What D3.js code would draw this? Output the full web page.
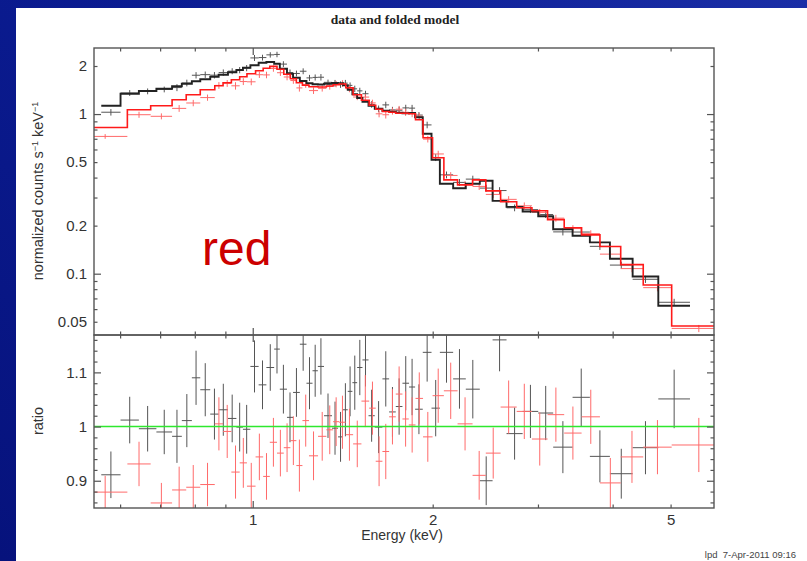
<!DOCTYPE html>
<html>
<head>
<meta charset="utf-8">
<script src="https://cdn.jsdelivr.net/npm/d3@7"></script>
<style>
html, body { margin: 0; padding: 0; }
body { width: 807px; height: 561px; overflow: hidden; }
text { font-family: Arial, "Liberation Sans", Helvetica, sans-serif; }
</style>
</head>
<body>
<script>
// group 1 (black): bin edges in keV, folded model, data/model ratio and its error
var blackEdges = [0.558, 0.601, 0.645, 0.690, 0.733, 0.761, 0.791, 0.817, 0.849, 0.877, 0.909, 0.939, 0.963, 0.991,
	1.023, 1.054, 1.086, 1.110, 1.141, 1.168, 1.199, 1.230, 1.259, 1.285, 1.316, 1.357, 1.389, 1.416, 1.442, 1.468,
	1.495, 1.526, 1.562, 1.600, 1.648, 1.691, 1.735, 1.780, 1.826, 1.869, 1.925, 1.991, 2.056, 2.164, 2.272, 2.398,
	2.519, 2.658, 2.828, 3.003, 3.181, 3.428, 3.664, 3.958, 4.320, 4.769, 5.388];
var blackModel = [1.127, 1.340, 1.394, 1.441, 1.492, 1.549, 1.606, 1.653, 1.713, 1.764, 1.829, 1.887, 1.951, 2.023,
	2.097, 2.118, 2.067, 1.923, 1.789, 1.689, 1.610, 1.560, 1.538, 1.531, 1.549, 1.564, 1.560, 1.515, 1.420, 1.331,
	1.260, 1.194, 1.127, 1.080, 1.049, 1.034, 1.019, 1.012, 1.015, 0.955, 0.752, 0.517, 0.366, 0.343, 0.366, 0.382,
	0.286, 0.262, 0.245, 0.229, 0.190, 0.173, 0.157, 0.124, 0.096, 0.063];
var blackRatio = [0.911, 1.012, 0.996, 0.990, 0.982, 1.011, 1.090, 1.068, 1.023, 1.031, 1.015, 0.999, 0.995, 1.111,
	1.077, 1.109, 1.143, 1.069, 1.017, 1.063, 1.152, 1.080, 1.103, 1.111, 1.020, 0.997, 0.981, 1.031, 1.065, 1.081,
	1.109, 1.123, 1.020, 0.999, 1.088, 1.027, 1.037, 1.080, 1.073, 1.032, 1.137, 1.034, 1.137, 1.088, 1.069, 0.900,
	1.160, 0.987, 1.028, 1.025, 0.962, 1.054, 0.945, 0.913, 0.961, 1.051];
var blackErr = [0.043, 0.043, 0.042, 0.041, 0.049, 0.049, 0.050, 0.049, 0.047, 0.048, 0.044, 0.045, 0.045, 0.048,
	0.045, 0.043, 0.045, 0.045, 0.046, 0.045, 0.049, 0.048, 0.048, 0.052, 0.041, 0.049, 0.046, 0.049, 0.046, 0.050,
	0.051, 0.049, 0.048, 0.048, 0.051, 0.046, 0.052, 0.050, 0.052, 0.046, 0.054, 0.052, 0.056, 0.055, 0.054, 0.045,
	0.058, 0.048, 0.049, 0.050, 0.048, 0.053, 0.048, 0.046, 0.049, 0.054];

// group 2 (red)
var redEdges = [0.520, 0.617, 0.675, 0.733, 0.774, 0.817, 0.864, 0.892, 0.921, 0.951, 0.978, 1.011, 1.041, 1.068,
	1.098, 1.127, 1.156, 1.183, 1.211, 1.242, 1.286, 1.328, 1.363, 1.395, 1.431, 1.472, 1.520, 1.566, 1.606, 1.648,
	1.691, 1.735, 1.780, 1.824, 1.872, 1.927, 1.999, 2.088, 2.201, 2.332, 2.454, 2.598, 2.764, 2.931, 3.113, 3.319,
	3.549, 3.809, 4.126, 4.500, 5.021, 6.189];
var redModel = [0.824, 1.064, 1.127, 1.229, 1.321, 1.420, 1.504, 1.571, 1.641, 1.713, 1.789, 1.868, 1.937, 1.988,
	1.909, 1.776, 1.665, 1.571, 1.515, 1.483, 1.476, 1.498, 1.526, 1.542, 1.462, 1.321, 1.220, 1.136, 1.072, 1.038,
	1.026, 1.012, 1.012, 1.004, 0.921, 0.710, 0.532, 0.387, 0.360, 0.387, 0.330, 0.282, 0.259, 0.248, 0.218, 0.194,
	0.175, 0.148, 0.114, 0.085, 0.047];
var redRatio = [0.879, 0.931, 0.859, 0.883, 0.888, 0.893, 1.005, 0.991, 0.916, 0.933, 0.890, 0.944, 0.908, 0.971,
	0.951, 0.961, 0.974, 0.928, 1.011, 0.946, 0.982, 0.994, 1.009, 1.008, 0.985, 0.968, 1.047, 1.034, 0.936, 0.954,
	1.018, 1.060, 1.014, 1.003, 1.052, 0.981, 1.057, 1.066, 1.005, 0.910, 0.951, 1.036, 1.028, 0.977, 1.022, 0.988,
	1.018, 0.896, 0.944, 0.962, 0.966];
var redErr = [0.030, 0.041, 0.037, 0.043, 0.041, 0.040, 0.049, 0.049, 0.049, 0.046, 0.043, 0.043, 0.043, 0.045,
	0.043, 0.045, 0.045, 0.048, 0.048, 0.045, 0.045, 0.045, 0.045, 0.049, 0.048, 0.043, 0.048, 0.049, 0.046, 0.051,
	0.051, 0.051, 0.051, 0.051, 0.048, 0.046, 0.050, 0.052, 0.049, 0.045, 0.047, 0.049, 0.051, 0.049, 0.050, 0.049,
	0.050, 0.046, 0.048, 0.050, 0.050];

// ticks
var xLabels = [1, 2, 5];
var xMajor = [1];
var xMinor = [0.6, 0.7, 0.8, 0.9, 2, 3, 4, 5];
var yUpLabels = [0.05, 0.1, 0.2, 0.5, 1, 2];
var yUpMajor = [0.1, 1];
var yUpMinor = [0.05, 0.06, 0.07, 0.08, 0.09, 0.2, 0.3, 0.4, 0.5, 0.6, 0.7, 0.8, 0.9, 2];
var yLoLabels = [0.9, 1, 1.1];
var yLoMajor = [0.9, 1, 1.1];
var yLoMinor = [0.86, 0.88, 0.92, 0.94, 0.96, 0.98, 1.02, 1.04, 1.06, 1.08, 1.12, 1.14, 1.16];

var width = 807, height = 561;
var pLeft = 94, pRight = 714, pTop = 48, pMid = 335, pBottom = 508;

var svg = d3.select("body").append("svg").attr("width", width).attr("height", height);
var defs = svg.append("defs");

var grad = defs.append("linearGradient").attr("id", "bg")
	.attr("x1", 0).attr("y1", 1).attr("x2", 1).attr("y2", 0);
grad.append("stop").attr("offset", "0%").attr("stop-color", "#06127c");
grad.append("stop").attr("offset", "60%").attr("stop-color", "#0b1c92");
grad.append("stop").attr("offset", "100%").attr("stop-color", "#1a2ea6");
svg.append("rect").attr("width", width).attr("height", height).style("fill", "url(#bg)");
svg.append("rect").attr("x", 16).attr("y", 8).attr("width", width - 16).attr("height", height - 8).style("fill", "#fff");

defs.append("clipPath").attr("id", "clipUp").append("rect")
	.attr("x", pLeft).attr("y", pTop).attr("width", pRight - pLeft).attr("height", pMid - pTop);
defs.append("clipPath").attr("id", "clipLo").append("rect")
	.attr("x", pLeft).attr("y", pMid).attr("width", pRight - pLeft).attr("height", pBottom - pMid);

var x = d3.scaleLog().domain([0.5426, 5.91]).range([pLeft, pRight]);
var yUp = d3.scaleLog().domain([0.0413, 2.593]).range([pMid, pTop]);
var yLo = d3.scaleLinear().domain([0.8497, 1.169]).range([pBottom, pMid]);

function bins(edges, model, ratio, err) {
	return model.map(function(m, i) {
		return { lo: edges[i], hi: edges[i + 1], c: Math.sqrt(edges[i] * edges[i + 1]), m: m, r: ratio[i], e: err[i] };
	});
}
var black = bins(blackEdges, blackModel, blackRatio, blackErr);
var red = bins(redEdges, redModel, redRatio, redErr);

var up = svg.append("g").attr("clip-path", "url(#clipUp)");
var lo = svg.append("g").attr("clip-path", "url(#clipLo)");

// data crosses: upper panel shows data = ratio * model
function crosses(g, data, yScale, val, lowV, highV, color) {
	var c = g.append("g").style("stroke", color).style("stroke-width", 1).style("fill", "none");
	c.selectAll(".h").data(data).enter().append("line")
		.attr("x1", d => x(d.lo)).attr("x2", d => x(d.hi))
		.attr("y1", d => yScale(val(d))).attr("y2", d => yScale(val(d)));
	c.selectAll(".v").data(data).enter().append("line")
		.attr("x1", d => x(d.c)).attr("x2", d => x(d.c))
		.attr("y1", d => yScale(lowV(d))).attr("y2", d => yScale(highV(d)));
}

function steps(g, data, color, w) {
	var pts = [];
	data.forEach(d => { pts.push([d.lo, d.m]); pts.push([d.hi, d.m]); });
	g.append("path").datum(pts)
		.attr("d", d3.line().x(p => x(p[0])).y(p => yUp(p[1])))
		.style("fill", "none").style("stroke", color).style("stroke-width", w);
}

crosses(up, black, yUp, d => d.m * d.r, d => d.m * (d.r - d.e), d => d.m * (d.r + d.e), "#555");
crosses(up, red, yUp, d => d.m * d.r, d => d.m * (d.r - d.e), d => d.m * (d.r + d.e), "#ff6a6a");
steps(up, black, "#222", 1.9);
steps(up, red, "#ff1a1a", 1.6);

crosses(lo, black, yLo, d => d.r, d => d.r - d.e, d => d.r + d.e, "#555");
crosses(lo, red, yLo, d => d.r, d => d.r - d.e, d => d.r + d.e, "#ff6a6a");
lo.append("line").attr("x1", pLeft).attr("x2", pRight).attr("y1", yLo(1)).attr("y2", yLo(1))
	.style("stroke", "#2ee82e").style("stroke-width", 1.6);

// frames and inward ticks
function tickAxis(axis, tx, ty, values, len) {
	var g = svg.append("g").attr("transform", "translate(" + tx + "," + ty + ")")
		.call(axis.tickValues(values).tickSize(-len).tickFormat(""));
	g.select(".domain").remove();
	g.selectAll(".tick line").style("stroke", "#555").style("stroke-width", 1.2);
}
function panelTicks(yScale, y0, y1, yMaj, yMin) {
	tickAxis(d3.axisBottom(x), 0, y1, xMajor, 7);
	tickAxis(d3.axisBottom(x), 0, y1, xMinor, 3.5);
	tickAxis(d3.axisTop(x), 0, y0, xMajor, 7);
	tickAxis(d3.axisTop(x), 0, y0, xMinor, 3.5);
	tickAxis(d3.axisLeft(yScale), pLeft, 0, yMaj, 7);
	tickAxis(d3.axisLeft(yScale), pLeft, 0, yMin, 3.5);
	tickAxis(d3.axisRight(yScale), pRight, 0, yMaj, 7);
	tickAxis(d3.axisRight(yScale), pRight, 0, yMin, 3.5);
	svg.append("rect").attr("x", pLeft).attr("y", y0).attr("width", pRight - pLeft).attr("height", y1 - y0)
		.style("fill", "none").style("stroke", "#555").style("stroke-width", 1.4);
}
panelTicks(yUp, pTop, pMid, yUpMajor, yUpMinor);
panelTicks(yLo, pMid, pBottom, yLoMajor, yLoMinor);

// tick labels
function labelAxis(axis, tx, ty, values, pad) {
	var g = svg.append("g").attr("transform", "translate(" + tx + "," + ty + ")")
		.call(axis.tickValues(values).tickSize(0).tickPadding(pad).tickFormat(d => String(d)));
	g.select(".domain").remove();
	g.attr("font-family", null).attr("font-size", null);
	g.selectAll("text").style("font-size", "15px").style("fill", "#333");
}
labelAxis(d3.axisLeft(yUp), pLeft, 0, yUpLabels, 7);
labelAxis(d3.axisLeft(yLo), pLeft, 0, yLoLabels, 7);
labelAxis(d3.axisBottom(x), 0, pBottom, xLabels, 6);

// titles
svg.append("text").attr("x", 395).attr("y", 24).attr("text-anchor", "middle")
	.style("font-family", "'Liberation Serif', 'Times New Roman', serif").style("font-weight", "bold")
	.style("font-size", "13.5px").style("fill", "#222").text("data and folded model");

svg.append("text").attr("x", 402).attr("y", 540).attr("text-anchor", "middle")
	.style("font-size", "14px").style("fill", "#333").text("Energy (keV)");

var yt = svg.append("text").attr("transform", "translate(43,191) rotate(-90)").attr("text-anchor", "middle")
	.style("font-size", "14.5px").style("fill", "#333");
yt.append("tspan").text("normalized counts s");
yt.append("tspan").attr("dy", -5).style("font-size", "9px").text("\u22121");
yt.append("tspan").attr("dy", 5).text(" keV");
yt.append("tspan").attr("dy", -5).style("font-size", "9px").text("\u22121");

svg.append("text").attr("transform", "translate(43,421) rotate(-90)").attr("text-anchor", "middle")
	.style("font-size", "14.5px").style("fill", "#333").text("ratio");

svg.append("text").attr("x", 202).attr("y", 265)
	.style("font-size", "48px").style("fill", "#cc0000").text("red");

svg.append("text").attr("x", 796).attr("y", 558).attr("text-anchor", "end")
	.style("font-size", "9.5px").style("fill", "#444").text("lpd\u00a0\u00a07-Apr-2011 09:16");
</script>
</body>
</html>
